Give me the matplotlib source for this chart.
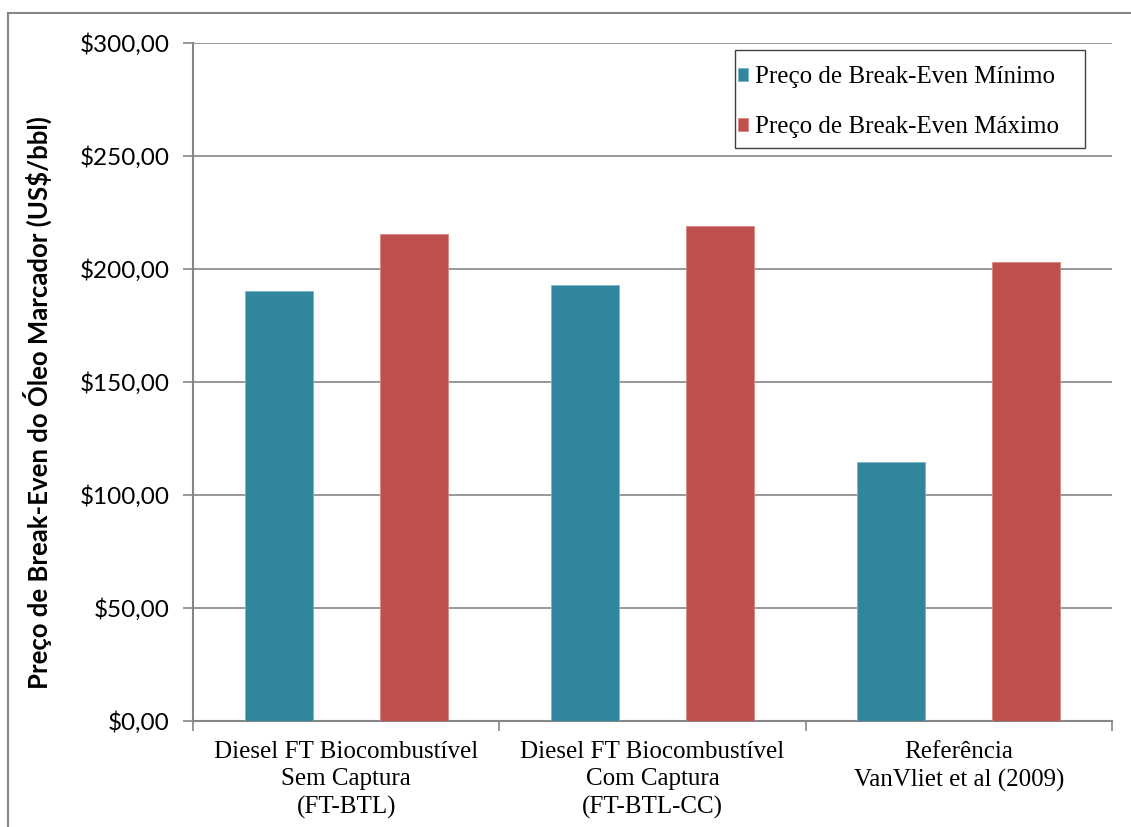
import matplotlib
matplotlib.use("Agg")
import matplotlib.pyplot as plt
from matplotlib.patches import Rectangle
from matplotlib.ticker import FuncFormatter
import numpy as np

categories = [
    "Diesel FT Biocombustível\nSem Captura\n(FT-BTL)",
    "Diesel FT Biocombustível\nCom Captura\n(FT-BTL-CC)",
    "Referência\nVanVliet et al (2009)",
]
series_names = ["Preço de Break-Even Mínimo", "Preço de Break-Even Máximo"]
min_values = [190.0, 193.0, 114.5]
max_values = [215.5, 219.0, 203.0]
y_ticks = [0, 50, 100, 150, 200, 250, 300]
y_title = "Preço de Break-Even do Óleo Marcador (US$/bbl)"

TEAL = "#31859C"
RED = "#C0504D"
GRID = "#868686"

fig = plt.figure(figsize=(11.31, 8.27), dpi=100)
fig.patch.set_facecolor("white")

# outer chart frame
fig.patches.append(Rectangle((8 / 1131, -0.05), 1.2, (827 - 13) / 827 + 0.05,
                             transform=fig.transFigure, fill=False,
                             edgecolor=GRID, linewidth=1.5))

ax = fig.add_axes([193 / 1131, (827 - 720.5) / 827, (1112 - 193) / 1131, (720.5 - 43) / 827])

x = np.arange(len(categories))
width = 0.222
offset = 0.22
ax.bar(x - offset, min_values, width, color=TEAL, edgecolor="#7FB3C4", linewidth=0.6,
       label=series_names[0], zorder=3)
ax.bar(x + offset, max_values, width, color=RED, edgecolor="#D98683", linewidth=0.6,
       label=series_names[1], zorder=3)

ax.set_xlim(-0.5, len(categories) - 0.5)
ax.set_ylim(0, 300)
ax.set_yticks(y_ticks)
ax.yaxis.set_major_formatter(FuncFormatter(lambda v, p: "$" + f"{v:.2f}".replace(".", ",")))
ax.grid(axis="y", color=GRID, linewidth=1.2, zorder=0)
ax.set_axisbelow(True)

for s in ["top", "right"]:
    ax.spines[s].set_visible(False)
for s in ["left", "bottom"]:
    ax.spines[s].set_color(GRID)
    ax.spines[s].set_linewidth(1.5)

ax.tick_params(axis="y", length=7, width=1.2, color=GRID, pad=10, labelsize=17.5)
for lbl in ax.get_yticklabels():
    lbl.set_family("Lato")

# category labels between boundary ticks
ax.set_xticks(np.arange(-0.5, len(categories)), minor=False)
ax.set_xticklabels([])
ax.tick_params(axis="x", length=7, width=1.2, color=GRID)
for i, cat in enumerate(categories):
    ax.text(i, -0.03, cat, transform=ax.get_xaxis_transform(), ha="center", va="top",
            family="Liberation Serif", fontsize=18, linespacing=1.32)

ax.set_ylabel(y_title, family="Lato", fontweight="bold", fontsize=18.5)
ax.yaxis.set_label_coords(-0.153, 0.47)

# legend box with tight left margin
ax.add_patch(Rectangle((0.5898, 0.845), 0.9706 - 0.5898, 0.9897 - 0.845,
                       transform=ax.transAxes, fill=True, facecolor="white",
                       edgecolor="#404040", linewidth=1.0, zorder=4, clip_on=False))
leg = ax.legend(loc="upper left", bbox_to_anchor=(0.593, 0.966), frameon=False,
                handlelength=0.42, handleheight=0.42, handletextpad=0.28,
                labelspacing=1.12, borderpad=0, borderaxespad=0,
                prop={"family": "Liberation Serif", "size": 18})
leg.set_zorder(5)

fig.savefig("out.png", dpi=100, facecolor="white")
